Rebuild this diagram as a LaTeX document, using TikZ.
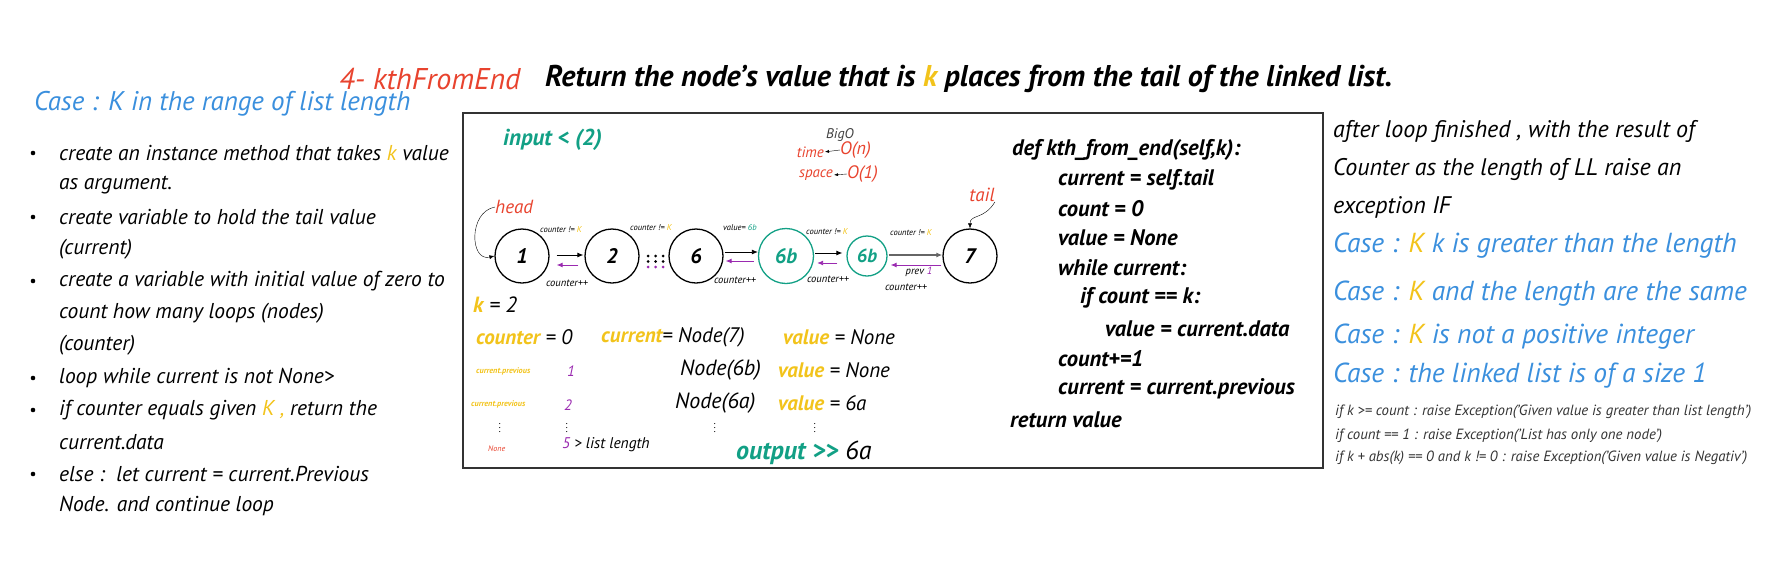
\documentclass[tikz,border=0pt]{standalone}
\usepackage{fontspec}
\setmainfont{PT Sans}
\usetikzlibrary{arrows.meta}

\definecolor{titlered}{HTML}{E8432E}
\definecolor{caseblue}{HTML}{3A8FDD}
\definecolor{kgold}{HTML}{F2C31B}
\definecolor{tealgreen}{HTML}{12A085}
\definecolor{backpurple}{HTML}{9A2AB0}

\newcommand{\fsz}[1]{\fontsize{#1}{#1}\selectfont}
\newcommand{\gk}[1]{\textcolor{kgold}{#1}}

\begin{document}
\begin{tikzpicture}[x=1pt, y=-1pt,
    every node/.style={inner sep=0pt, font=\itshape},
    txt/.style={anchor=west, font=\itshape\fsz{21.5}},
    righttxt/.style={anchor=west, font=\itshape\fsz{24}},
    casetxt/.style={anchor=west, text=caseblue, font=\itshape\fsz{27.5}},
    codetxt/.style={anchor=west, font=\bfseries\itshape\fsz{22.5}},
    exctxt/.style={anchor=west, text=black!80, font=\itshape\fsz{14.8}},
    vartxt/.style={anchor=west, font=\itshape\fsz{21}},
    tiny/.style={font=\itshape\fsz{8.5}},
    incr/.style={font=\itshape\fsz{10.5}},
    lnode/.style={circle, draw, line width=1.3pt, minimum size=54pt, font=\bfseries\itshape\fsz{21}},
    fwd/.style={-{Latex[length=6pt,width=5pt]}, line width=0.8pt},
    bwd/.style={backpurple, -{Latex[length=6pt,width=5pt]}, line width=0.9pt}
  ]
  \useasboundingbox (0,0) rectangle (1778,568);

  % title
  \node[anchor=west, text=titlered, font=\itshape\fsz{30}] (fname) at (339,79) {4- kthFromEnd};
  \node[anchor=west, font=\bfseries\itshape\fsz{30}] (ftitle) at (545,79)
    {Return the node's value that is \gk{k} places from the tail of the linked list.};

  % left column
  \node[casetxt, font=\itshape\fsz{27}] (case0) at (34,104) {Case : K in the range of list length};
  \foreach \yy in {153,217,281,378,410,474}
    \fill (33,\yy) circle (2.3);
  \node[txt] (s1) at (59,153) {create an instance method that takes \gk{k} value};
  \node[txt] (s1b) at (59,185) {as argument.};
  \node[txt] (s2) at (59,217) {create variable to hold the tail value};
  \node[txt] (s2b) at (59,249) {(current)};
  \node[txt] (s3) at (59,281) {create a variable with initial value of zero to};
  \node[txt] (s3b) at (59,313) {count how many loops (nodes)};
  \node[txt] (s3c) at (59,345) {(counter)};
  \node[txt] (s4) at (59,378) {loop while current is not None>};
  \node[txt] (s5) at (59,410) {if counter equals given \gk{K ,} return the};
  \node[txt] (s5b) at (59,442) {current.data};
  \node[txt] (s6) at (59,474) {else :\ \ let current = current.Previous};
  \node[txt] (s6b) at (59,506) {Node. and continue loop};

  % middle box
  \draw[line width=1.3pt, black!80] (463,113) rectangle (1323,468);

  \node[anchor=west, text=tealgreen, font=\bfseries\itshape\fsz{23}] (inp) at (503,140) {input < (2)};
  \node[text=black!75, font=\itshape\fsz{14}] (bigo) at (840,135) {BigO};
  \node[anchor=east, text=titlered, font=\itshape\fsz{15}] (tm) at (824,152) {time};
  \node[anchor=west, text=titlered, font=\itshape\fsz{18}] (on) at (840,150) {O(n)};
  \node[anchor=east, text=titlered, font=\itshape\fsz{15}] (sp) at (833,175) {space};
  \node[anchor=west, text=titlered, font=\itshape\fsz{18}] (o1) at (847,174) {O(1)};
  \draw[-{Latex[length=4pt,width=3pt]}, shorten >=1pt] (on.west) -- (tm.east);
  \draw[-{Latex[length=4pt,width=3pt]}, shorten >=1pt] (o1.west) -- (sp.east);

  % linked list
  \node[lnode] (n1) at (522,256) {1};
  \node[lnode] (n2) at (612,256) {2};
  \node[lnode] (n6) at (696,256) {6};
  \node[lnode, draw=tealgreen, text=tealgreen, minimum size=55pt] (n6b) at (786,256) {6b};
  \node[lnode, draw=tealgreen, text=tealgreen, minimum size=40pt, font=\bfseries\itshape\fsz{19}] (n6c) at (867,256) {6b};
  \node[lnode] (n7) at (970,256) {7};

  \draw[fwd, shorten <=7pt, shorten >=1pt] ([yshift=1pt]n1.east) -- ([yshift=1pt]n2.west);
  \draw[bwd, shorten <=6pt, shorten >=7pt] ([yshift=-9pt]n2.west) -- ([yshift=-9pt]n1.east);
  \draw[fwd, shorten <=1pt] ([yshift=4pt]n6.east) -- ([yshift=4pt]n6b.west);
  \draw[bwd, shorten <=4pt, shorten >=2pt] ([yshift=-5pt]n6b.west) -- ([yshift=-5pt]n6.east);
  \draw[fwd, shorten <=1pt, shorten >=4pt] ([yshift=3pt]n6b.east) -- ([yshift=3pt]n6c.west);
  \draw[bwd, shorten <=9pt, shorten >=3pt] ([yshift=-7pt]n6c.west) -- ([yshift=-7pt]n6b.east);
  \draw[fwd, draw=black!60, line width=1.2pt, shorten <=1pt] ([yshift=1pt]n6c.east) -- ([yshift=1pt]n7.west);
  \draw[bwd, shorten <=1pt, shorten >=3pt] ([yshift=-9pt]n7.west) -- ([yshift=-9pt]n6c.east);

  \foreach \dx in {0,7.5,15} {
    \fill (648+\dx,256) circle (1.5);
    \fill (648+\dx,261.5) circle (1.5);
    \fill[backpurple] (648+\dx,267) circle (1.5);
  }

  \node[tiny] (c1) at (561,230) {counter != \gk{K}};
  \node[tiny] (c2) at (651,228) {counter != \gk{K}};
  \node[tiny] (v6b) at (740,228) {value= \textcolor{tealgreen}{6b}};
  \node[tiny] (c3) at (827,232) {counter != \gk{K}};
  \node[tiny] (c4) at (911,233) {counter != \gk{K}};
  \node[incr] (p1) at (567,283) {counter++};
  \node[incr] (p2) at (735,280) {counter++};
  \node[incr] (p3) at (828,279) {counter++};
  \node[incr] (p4) at (906,287) {counter++};
  \node[incr] (prv) at (919,272) {prev \textcolor{backpurple}{1}};

  \node[anchor=west, text=titlered, font=\itshape\fsz{19}] (head) at (495,207) {head};
  \node[text=titlered, font=\itshape\fsz{19}] (tail) at (982,195) {tail};
  \draw[-{Latex[length=5pt,width=4pt]}] (head.west) .. controls (468,212) and (470,262) .. (n1.west);
  \draw[-{Latex[length=5pt,width=4pt]}] (tail.south east) .. controls (984,220) and (970,214) .. (n7.north);

  % trace of the loop
  \node[anchor=west, font=\itshape\fsz{22}] (kdef) at (473,305) {\gk{\bfseries k} = 2};
  \node[vartxt] (cnt0) at (476,337) {\textbf{\gk{counter}} = 0};
  \node[vartxt] (cur0) at (601,337) {\textbf{\gk{current}}= Node(7)};
  \node[vartxt] (val0) at (783,337) {\textbf{\gk{value}} = None};
  \node[anchor=west, text=kgold, font=\bfseries\itshape\fsz{8.2}] (prev1) at (476,371) {current.previous};
  \node[text=backpurple, font=\itshape\fsz{15}] (cnt1) at (571,371) {1};
  \node[vartxt, font=\itshape\fsz{22}] (cur1) at (680,370) {Node(6b)};
  \node[vartxt] (val1) at (778,370) {\textbf{\gk{value}} = None};
  \node[anchor=west, text=kgold, font=\bfseries\itshape\fsz{8.2}] (prev2) at (471,404) {current.previous};
  \node[text=backpurple, font=\itshape\fsz{15}] (cnt2) at (568,405) {2};
  \node[vartxt, font=\itshape\fsz{22}] (cur2) at (675,403) {Node(6a)};
  \node[vartxt] (val2) at (778,403) {\textbf{\gk{value}} = 6a};
  \node (vd1) at (500,425) {$\vdots$};
  \node (vd2) at (567,425) {$\vdots$};
  \node (vd3) at (715,425) {$\vdots$};
  \node (vd4) at (815,425) {$\vdots$};
  \node[anchor=west, text=titlered, font=\itshape\fsz{8}] (none) at (488,449) {None};
  \node[anchor=west, font=\itshape\fsz{15.5}] (len) at (562,445) {\textcolor{backpurple}{5} > list length};
  \node[anchor=west, font=\itshape\fsz{26}] (outp) at (736,453) {\textbf{\textcolor{tealgreen}{output {>}{>}}} 6a};

  % code
  \node[codetxt] (l1) at (1012,150) {def kth\_from\_end(self,k):};
  \node[codetxt] (l2) at (1058,180) {current = self.tail};
  \node[codetxt] (l3) at (1058,209) {count = 0};
  \node[codetxt] (l4) at (1058,238) {value = None};
  \node[codetxt] (l5) at (1058,268) {while current:};
  \node[codetxt] (l6) at (1080,298) {if count == k:};
  \node[codetxt] (l7) at (1105,329) {value = current.data};
  \node[codetxt] (l8) at (1058,359) {count+=1};
  \node[codetxt] (l9) at (1058,389) {current = current.previous};
  \node[codetxt] (l10) at (1010,420) {return value};

  % right column
  \node[righttxt] (r1) at (1333,131) {after loop finished , with the result of};
  \node[righttxt] (r2) at (1333,169) {Counter as the length of LL raise an};
  \node[righttxt] (r3) at (1333,207) {exception IF};
  \node[casetxt] (e1) at (1333,246) {Case : \gk{K} k is greater than the length};
  \node[casetxt] (e2) at (1333,294) {Case : \gk{K} and the length are the same};
  \node[casetxt] (e3) at (1333,337) {Case : \gk{K} is not a positive integer};
  \node[casetxt] (e4) at (1333,376) {Case : the linked list is of a size 1};
  \node[exctxt] (x1) at (1335,412) {if k >= count : raise Exception('Given value is greater than list length')};
  \node[exctxt] (x2) at (1335,436) {if count == 1 : raise Exception('List has only one node')};
  \node[exctxt] (x3) at (1335,458) {if k + abs(k) == 0 and k != 0 : raise Exception('Given value is Negativ')};
\end{tikzpicture}
\end{document}
